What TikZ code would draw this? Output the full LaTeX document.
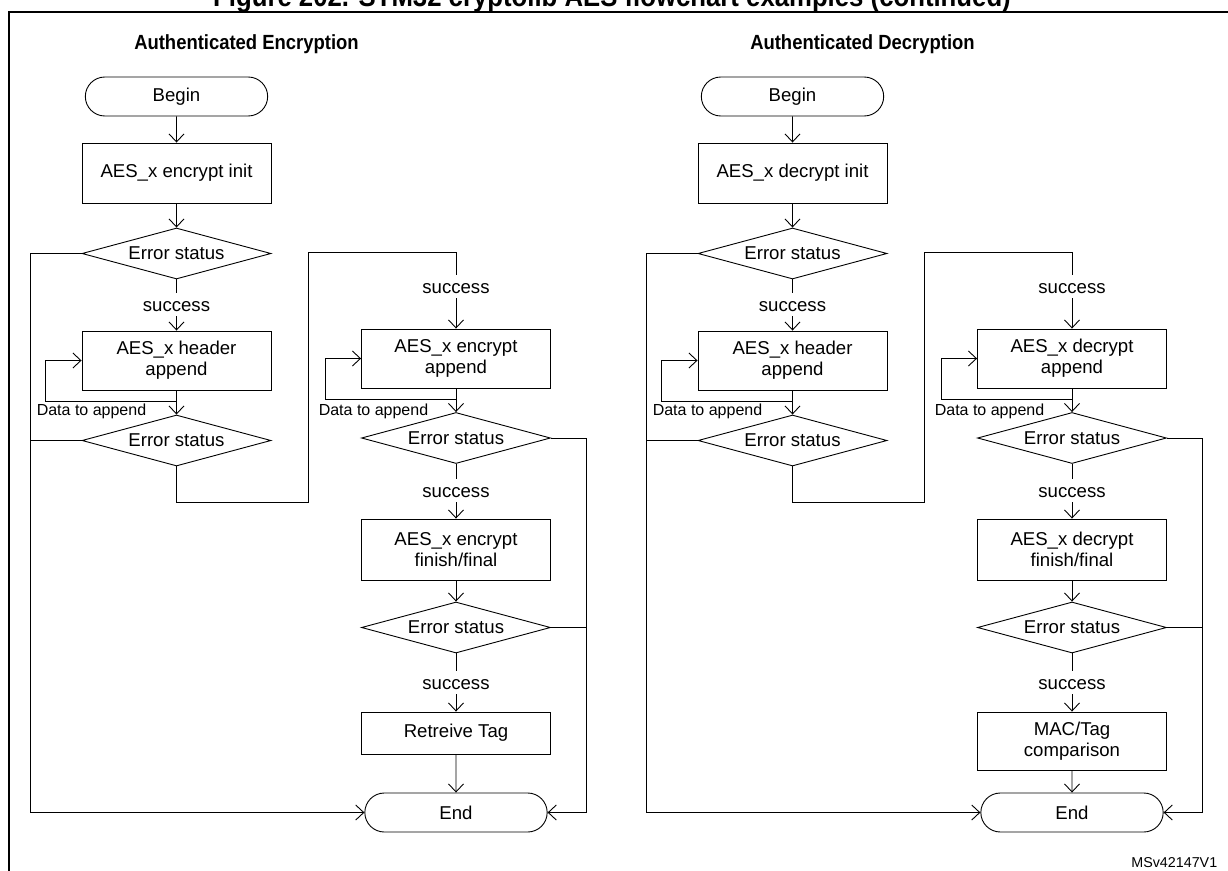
\documentclass[tikz,border=0pt]{standalone}
\usepackage{fontspec}
\setmainfont{Liberation Sans}
\newfontfamily\narrowsans{Liberation Sans}[FakeStretch=0.9]
\usetikzlibrary{shapes.geometric, shapes.misc, arrows.meta, positioning, calc}

\begin{document}
\begin{tikzpicture}[
                x=1pt, y=-1pt, line width=0.9pt,
                font=\fontsize{18.6}{21}\selectfont,
                process/.style={rectangle, draw, minimum width=189pt, align=center, inner sep=2pt},
                terminal/.style={rounded rectangle, draw, minimum width=189pt, minimum height=39pt},
                decision/.style={diamond, draw, aspect=3.7, inner sep=0pt, minimum width=189pt, minimum height=51pt},
                oklabel/.style={anchor=base, text height=14pt, text depth=1pt, inner sep=4pt},
                loopnote/.style={font=\fontsize{16}{19}\selectfont, inner sep=0pt},
                heading/.style={anchor=base, font=\narrowsans\bfseries\fontsize{20.5}{24}\selectfont},
                flow/.style={-{Straight Barb[length=8pt,width=15pt]}}
            ]
                \useasboundingbox (0,0) rectangle (1228,870);
                \node[anchor=base, font=\narrowsans\bfseries\fontsize{28.6}{33}\selectfont] (title) at (612,6) {Figure 202. STM32 cryptolib AES flowchart examples (continued)};
                \draw[line width=2pt] (9,890) -- (9,12) -- (1245,12);
                \node[anchor=base east, font=\fontsize{14.3}{17}\selectfont] (ref) at (1221,867) {MSv42147V1};

                \begin{scope}
                \node[heading] (headE) at (246.5,49) {Authenticated Encryption};
                \node[terminal] (beginE) at (176.5,96.5) {Begin};
                \node[process, minimum height=60pt] (initE) at (176.5,173) {AES\_x encrypt init};
                \node[decision] (err1E) at (176.5,253.5) {Error status};
                \node[oklabel] (ok1E) at (176.5,311) {success};
                \node[process, minimum height=59pt] (headerE) at (176.5,360.5) {AES\_x header\\append};
                \node[loopnote] (data1E) at (91.5,411) {Data to append};
                \node[decision] (err2E) at (176.5,440.5) {Error status};
                \node[oklabel] (ok2E) at (456,293) {success};
                \node[process, minimum height=59pt] (appendE) at (456,358.5) {AES\_x encrypt\\append};
                \node[loopnote] (data2E) at (373.5,411) {Data to append};
                \node[decision] (err3E) at (456,438) {Error status};
                \node[oklabel] (ok3E) at (456,497) {success};
                \node[process, minimum height=61pt] (finalE) at (456,549.5) {AES\_x encrypt\\finish/final};
                \node[decision] (err4E) at (456,627.5) {Error status};
                \node[oklabel] (ok4E) at (456,689) {success};
                \node[process, minimum height=42pt] (tagE) at (456,733) {Retreive Tag};
                \node[terminal] (endE) at (456,812.5) {End};

                \coordinate (loop1E) at (45.7,401);
                \coordinate (loop2E) at (325.7,399);
                \coordinate (bend1E) at (308,502);
                \coordinate (bend2E) at (308,252);
                \coordinate (leftE) at (30,812.5);
                \coordinate (rightE) at (586.5,812.5);

                \draw[flow] (beginE) -- (initE);
                \draw[flow] (initE) -- (err1E);
                \draw (err1E) -- (ok1E);
                \draw[flow] (ok1E) -- (headerE);
                \draw[flow] (headerE) -- (err2E);
                \draw[flow] (headerE.south |- loop1E) -- (loop1E) |- (headerE.west);
                \draw (err2E.south) |- (bend1E) -- (bend2E) -| (ok2E);
                \draw[flow] (ok2E) -- (appendE);
                \draw[flow] (appendE) -- (err3E);
                \draw[flow] (appendE.south |- loop2E) -- (loop2E) |- (appendE.west);
                \draw (err3E) -- (ok3E);
                \draw[flow] (ok3E) -- (finalE);
                \draw[flow] (finalE) -- (err4E);
                \draw (err4E) -- (ok4E);
                \draw[flow] (ok4E) -- (tagE);
                \draw[flow] (tagE) -- (endE);
                \draw[flow] (err1E.west) -| (leftE) -- (endE.west);
                \draw (err2E.west) -- (err2E.west -| leftE);
                \draw[flow] (err3E.east) -| (rightE) -- (endE.east);
                \draw (err4E.east) -- (err4E.east -| rightE);
                \end{scope}

                \begin{scope}[xshift=616pt]
                \node[heading] (headD) at (246.5,49) {Authenticated Decryption};
                \node[terminal] (beginD) at (176.5,96.5) {Begin};
                \node[process, minimum height=60pt] (initD) at (176.5,173) {AES\_x decrypt init};
                \node[decision] (err1D) at (176.5,253.5) {Error status};
                \node[oklabel] (ok1D) at (176.5,311) {success};
                \node[process, minimum height=59pt] (headerD) at (176.5,360.5) {AES\_x header\\append};
                \node[loopnote] (data1D) at (91.5,411) {Data to append};
                \node[decision] (err2D) at (176.5,440.5) {Error status};
                \node[oklabel] (ok2D) at (456,293) {success};
                \node[process, minimum height=59pt] (appendD) at (456,358.5) {AES\_x decrypt\\append};
                \node[loopnote] (data2D) at (373.5,411) {Data to append};
                \node[decision] (err3D) at (456,438) {Error status};
                \node[oklabel] (ok3D) at (456,497) {success};
                \node[process, minimum height=61pt] (finalD) at (456,549.5) {AES\_x decrypt\\finish/final};
                \node[decision] (err4D) at (456,627.5) {Error status};
                \node[oklabel] (ok4D) at (456,689) {success};
                \node[process, minimum height=58pt] (macD) at (456,741) {MAC/Tag\\comparison};
                \node[terminal] (endD) at (456,812.5) {End};

                \coordinate (loop1D) at (45.7,401);
                \coordinate (loop2D) at (325.7,399);
                \coordinate (bend1D) at (308,502);
                \coordinate (bend2D) at (308,252);
                \coordinate (leftD) at (30,812.5);
                \coordinate (rightD) at (586.5,812.5);

                \draw[flow] (beginD) -- (initD);
                \draw[flow] (initD) -- (err1D);
                \draw (err1D) -- (ok1D);
                \draw[flow] (ok1D) -- (headerD);
                \draw[flow] (headerD) -- (err2D);
                \draw[flow] (headerD.south |- loop1D) -- (loop1D) |- (headerD.west);
                \draw (err2D.south) |- (bend1D) -- (bend2D) -| (ok2D);
                \draw[flow] (ok2D) -- (appendD);
                \draw[flow] (appendD) -- (err3D);
                \draw[flow] (appendD.south |- loop2D) -- (loop2D) |- (appendD.west);
                \draw (err3D) -- (ok3D);
                \draw[flow] (ok3D) -- (finalD);
                \draw[flow] (finalD) -- (err4D);
                \draw (err4D) -- (ok4D);
                \draw[flow] (ok4D) -- (macD);
                \draw[flow] (macD) -- (endD);
                \draw[flow] (err1D.west) -| (leftD) -- (endD.west);
                \draw (err2D.west) -- (err2D.west -| leftD);
                \draw[flow] (err3D.east) -| (rightD) -- (endD.east);
                \draw (err4D.east) -- (err4D.east -| rightD);
                \end{scope}
            \end{tikzpicture}
\end{document}
